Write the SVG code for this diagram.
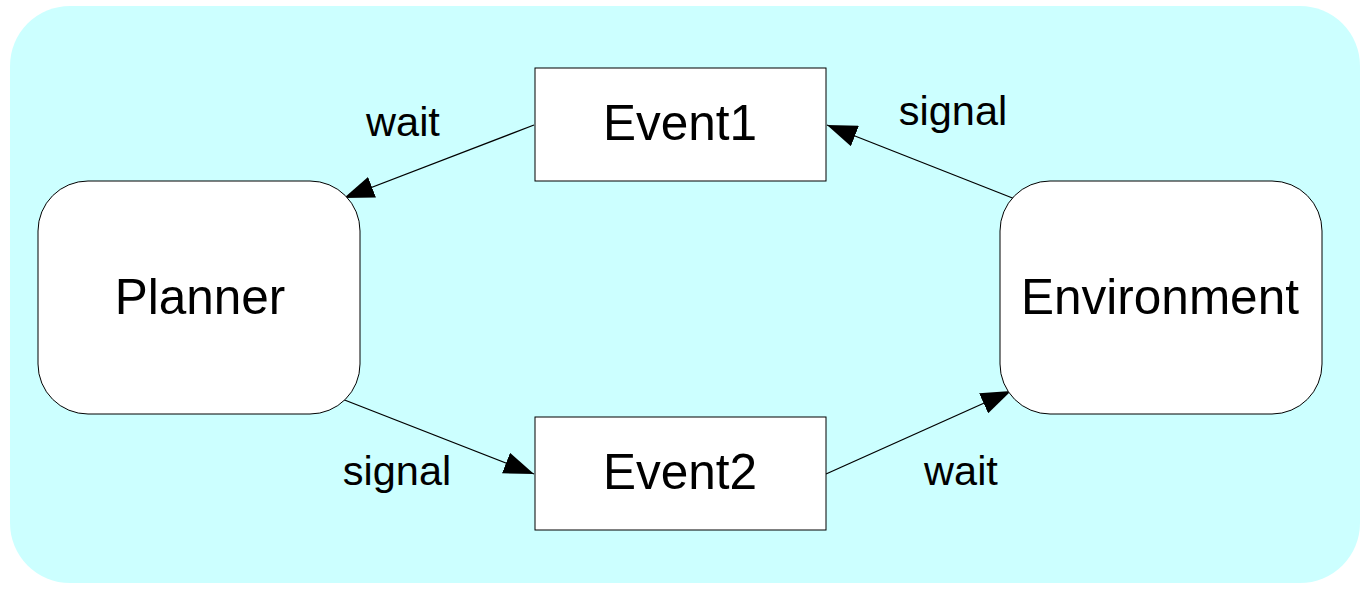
<svg xmlns="http://www.w3.org/2000/svg" width="1362" height="589" viewBox="0 0 1362 589">
  <style>
    .node { fill: #ffffff; stroke: #000000; stroke-width: 1; }
    .title { font-family: "Liberation Sans", Arial, sans-serif; font-size: 49.5px; fill: #000000; text-anchor: middle; }
    .label { font-family: "Liberation Sans", Arial, sans-serif; font-size: 41.5px; fill: #000000; text-anchor: middle; }
    .edge { stroke: #000000; stroke-width: 1.3; fill: none; marker-end: url(#arrow); }
  </style>
  <defs>
    <marker id="arrow" viewBox="0 0 30 22" refX="30" refY="11" markerWidth="30" markerHeight="22" markerUnits="userSpaceOnUse" orient="auto">
      <path d="M0,0 L30,11 L0,22 Z" fill="#000000"/>
    </marker>
  </defs>

  <!-- background panel -->
  <rect x="10" y="6" width="1350" height="577" rx="60" ry="60" fill="#ccffff"/>

  <g id="connectors">
    <line class="edge" x1="534" y1="125" x2="344" y2="198"/>
    <line class="edge" x1="1015" y1="199" x2="827" y2="125"/>
    <line class="edge" x1="342" y1="399" x2="534" y2="474"/>
    <line class="edge" x1="826" y1="474" x2="1011" y2="391"/>
    <text class="label" x="403" y="136">wait</text>
    <text class="label" x="953" y="125">signal</text>
    <text class="label" x="397" y="485">signal</text>
    <text class="label" x="961" y="485">wait</text>
  </g>

  <g id="planner">
    <rect class="node" x="38" y="181" width="322" height="233" rx="50" ry="50"/>
    <text class="title" x="200" y="314">Planner</text>
  </g>

  <g id="environment">
    <rect class="node" x="1000" y="181" width="322" height="233" rx="50" ry="50"/>
    <text class="title" x="1160" y="314">Environment</text>
  </g>

  <g id="event1">
    <rect class="node" x="535" y="68" width="291" height="113"/>
    <text class="title" x="680" y="140">Event1</text>
  </g>

  <g id="event2">
    <rect class="node" x="535" y="417" width="291" height="113"/>
    <text class="title" x="680" y="489">Event2</text>
  </g>
</svg>
